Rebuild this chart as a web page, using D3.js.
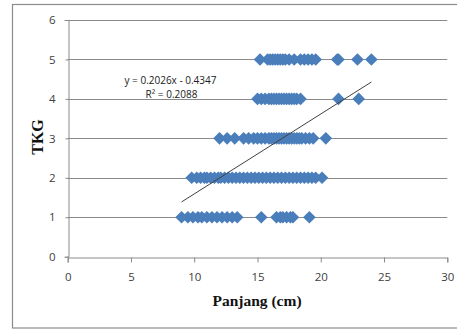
<!DOCTYPE html>
<html>
<head>
<meta charset="utf-8">
<script src="https://cdn.jsdelivr.net/npm/d3@7"></script>
<style>
  body { margin: 0; background: #fff; }
  svg { display: block; }
</style>
</head>
<body>
<div class="chart"></div>
<script>
// panjang (cm) values, one list per TKG level
var tkg1 = [9.0, 9.5, 9.9, 10.3, 10.6, 11.0, 11.4, 11.8, 12.2, 12.6, 13.0, 13.4,
            15.3, 16.5, 16.8, 17.0, 17.3, 17.6, 17.8, 19.1];
var tkg2 = [9.8, 10.2, 10.5, 10.8, 11.0, 11.3, 11.6, 11.9, 12.1, 12.4, 12.7, 13.0,
            13.3, 13.6, 13.9, 14.2, 14.5, 14.8, 15.1, 15.4, 15.7, 16.0, 16.3, 16.6,
            16.9, 17.2, 17.5, 17.8, 18.1, 18.4, 18.7, 19.0, 19.3, 19.6, 20.1];
var tkg3 = [12.0, 12.6, 13.2, 13.9, 14.3, 14.7, 15.0, 15.3, 15.6, 15.9, 16.1, 16.3,
            16.5, 16.7, 16.9, 17.1, 17.3, 17.5, 17.7, 17.9, 18.1, 18.3, 18.5, 18.8,
            19.1, 19.4, 20.4];
var tkg4 = [15.0, 15.3, 15.6, 15.9, 16.1, 16.3, 16.5, 16.7, 16.9, 17.1, 17.3, 17.5,
            17.7, 17.9, 18.1, 18.4, 21.4, 23.0];
var tkg5 = [15.2, 15.8, 16.0, 16.2, 16.4, 16.6, 16.8, 17.0, 17.2, 17.5, 17.9, 18.4,
            18.7, 19.0, 19.3, 19.6, 21.3, 21.4, 22.9, 24.0];

var xTicks = [0, 5, 10, 15, 20, 25, 30];
var yTicks = [0, 1, 2, 3, 4, 5, 6];
var slope = 0.2026, intercept = -0.4347;
var eqLabel = "y = 0.2026x - 0.4347";
var r2Label = "R² = 0.2088";

// flatten to points
var points = [];
[tkg1, tkg2, tkg3, tkg4, tkg5].forEach(function(arr, i) {
    arr.forEach(function(v) { points.push({x: v, y: i + 1}) });
});

var width = 457, height = 329;
var plot = {left: 67.7, right: 447.3, top: 20, bottom: 256.7};

var svg = d3.select('.chart').append('svg')
    .attr('width', width)
    .attr('height', height);

// chart border
svg.append('rect')
    .attr('x', 12.5).attr('y', 4.5)
    .attr('width', 460).attr('height', 323.5)
    .attr('fill', 'none')
    .attr('stroke', '#8c8c8c')
    .attr('stroke-width', 1.2);

var x = d3.scaleLinear().domain([0, 30]).range([plot.left, plot.right]);
var y = d3.scaleLinear().domain([0, 6]).range([plot.bottom, plot.top]);

// gridlines
svg.append('g')
    .selectAll('line')
    .data(yTicks.slice(1))
    .enter()
    .append('line')
    .attr('x1', plot.left).attr('x2', plot.right)
    .attr('y1', function(d) { return Math.round(y(d)) + 0.5 })
    .attr('y2', function(d) { return Math.round(y(d)) + 0.5 })
    .attr('stroke', '#8a8a8a')
    .attr('stroke-width', 1);

// axes
var xAxis = svg.append('g')
    .attr('transform', 'translate(0,' + (Math.round(plot.bottom) + 0.5) + ')')
    .call(d3.axisBottom(x).tickValues(xTicks).tickFormat(d3.format('d')).tickSize(5).tickPadding(8));
var yAxis = svg.append('g')
    .attr('transform', 'translate(' + (Math.round(plot.left) + 0.5) + ',0)')
    .call(d3.axisLeft(y).tickValues(yTicks).tickFormat(d3.format('d')).tickSize(4).tickPadding(9));

[xAxis, yAxis].forEach(function(g) {
    g.select('.domain').attr('stroke', '#8a8a8a');
    g.selectAll('.tick line').attr('stroke', '#8a8a8a');
    g.selectAll('.tick text')
        .attr('fill', '#404040')
        .style('font-family', 'Open Sans, sans-serif')
        .style('font-size', '11.5px');
});
xAxis.selectAll('.tick text').attr('dy', '0.9em');
yAxis.selectAll('.tick line').attr('x1', -3).attr('x2', 0);

// markers
svg.append('g')
    .selectAll('path')
    .data(points)
    .enter()
    .append('path')
    .attr('d', d3.symbol(d3.symbolSquare, 80))
    .attr('transform', function(d) { return 'translate(' + x(d.x) + ',' + y(d.y) + ') rotate(45)' })
    .attr('fill', '#4a7ebb');

// trendline over the data range
var xMin = d3.min(points, function(d) { return d.x });
var xMax = d3.max(points, function(d) { return d.x });
svg.append('line')
    .attr('x1', x(xMin)).attr('y1', y(slope * xMin + intercept))
    .attr('x2', x(xMax)).attr('y2', y(slope * xMax + intercept))
    .attr('stroke', '#404040')
    .attr('stroke-width', 1);

// equation
var eq = svg.append('g')
    .style('font-family', 'Open Sans, sans-serif')
    .style('font-size', '10px')
    .attr('fill', '#202020')
    .attr('text-anchor', 'middle');
eq.append('text').attr('x', 170.5).attr('y', 84).text(eqLabel);
eq.append('text').attr('x', 171.5).attr('y', 97.5).text(r2Label);

// axis titles
svg.append('text')
    .attr('x', 257).attr('y', 306)
    .attr('text-anchor', 'middle')
    .style('font-family', 'Liberation Serif, serif')
    .style('font-weight', 'bold')
    .style('font-size', '15.5px')
    .attr('fill', '#111')
    .text('Panjang (cm)');

svg.append('text')
    .attr('transform', 'translate(43,137) rotate(-90)')
    .attr('text-anchor', 'middle')
    .style('font-family', 'Liberation Serif, serif')
    .style('font-weight', 'bold')
    .style('font-size', '16px')
    .attr('fill', '#111')
    .text('TKG');
</script>
</body>
</html>
